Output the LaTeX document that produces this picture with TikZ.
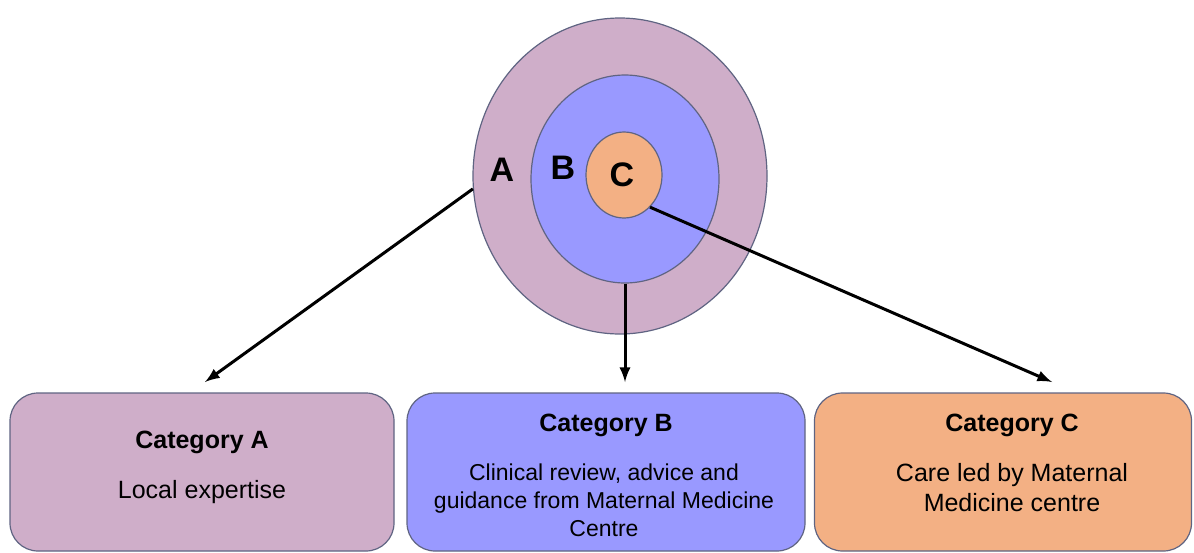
\documentclass[tikz,border=0pt]{standalone}
\usepackage{fontspec}
\setmainfont{Liberation Sans}
\usepackage{tikz}
\usetikzlibrary{shapes,arrows,positioning}
\usepackage{xcolor}
\definecolor{lilac}{RGB}{207,174,201}
\definecolor{periw}{RGB}{153,153,255}
\definecolor{peach}{RGB}{243,176,132}
\definecolor{rim}{RGB}{95,100,130}

\begin{document}
\begin{tikzpicture}[
          x=0.5pt, y=-0.5pt,
          ring/.style={ellipse, draw=rim, line width=0.6pt, inner sep=0pt},
          card/.style={rectangle, rounded corners=14pt, draw=rim, line width=0.6pt, inner sep=0pt},
          letter/.style={font=\fontsize{17}{20}\selectfont\bfseries},
          title/.style={font=\fontsize{12.5}{14}\selectfont\bfseries},
          body/.style={font=\fontsize{12.5}{15}\selectfont, align=center},
          arr/.style={-latex, line width=1.5pt}
        ]
        \useasboundingbox (0,0) rectangle (1194,552);

        % Nested rings
        \node[ring, fill=lilac, minimum width=147pt, minimum height=158pt] (outer) at (620,176) {};
        \node[ring, fill=periw, minimum width=94pt, minimum height=104pt] (mid) at (625,179) {};
        \node[ring, fill=peach, minimum width=38pt, minimum height=43pt] (core) at (624,175) {};

        \node[letter] (la) at (502,170) {A};
        \node[letter] (lb) at (563,168) {B};
        \node[letter] (lc) at (622,175) {C};

        % Category boxes
        \node[card, fill=lilac, minimum width=192pt, minimum height=79pt] (boxa) at (202,472) {};
        \node[card, fill=periw, minimum width=199pt, minimum height=79pt] (boxb) at (606,472) {};
        \node[card, fill=peach, minimum width=188.5pt, minimum height=79pt] (boxc) at (1003,472) {};

        \node[title] (ta) at (202,442) {Category A};
        \node[body] (da) at (202,492) {Local expertise};
        \node[title] (tb) at (606,425) {Category B};
        \node[body, font=\fontsize{11.5}{14}\selectfont] (db) at (604,500) {Clinical review, advice and\\guidance from Maternal Medicine\\Centre};
        \node[title] (tc) at (1012,425) {Category C};
        \node[body] (dc) at (1012,488) {Care led by Maternal\\Medicine centre};

        % Arrow ends above the boxes
        \coordinate (enda) at (205,382);
        \coordinate (endb) at (625,382);
        \coordinate (endc) at (1052,382);

        % Connectors
        \draw[arr] (outer.185) -- (enda);
        \draw[arr] (mid.south) -- (endb);
        \draw[arr] (core.-51) -- (endc);

      \end{tikzpicture}
\end{document}
